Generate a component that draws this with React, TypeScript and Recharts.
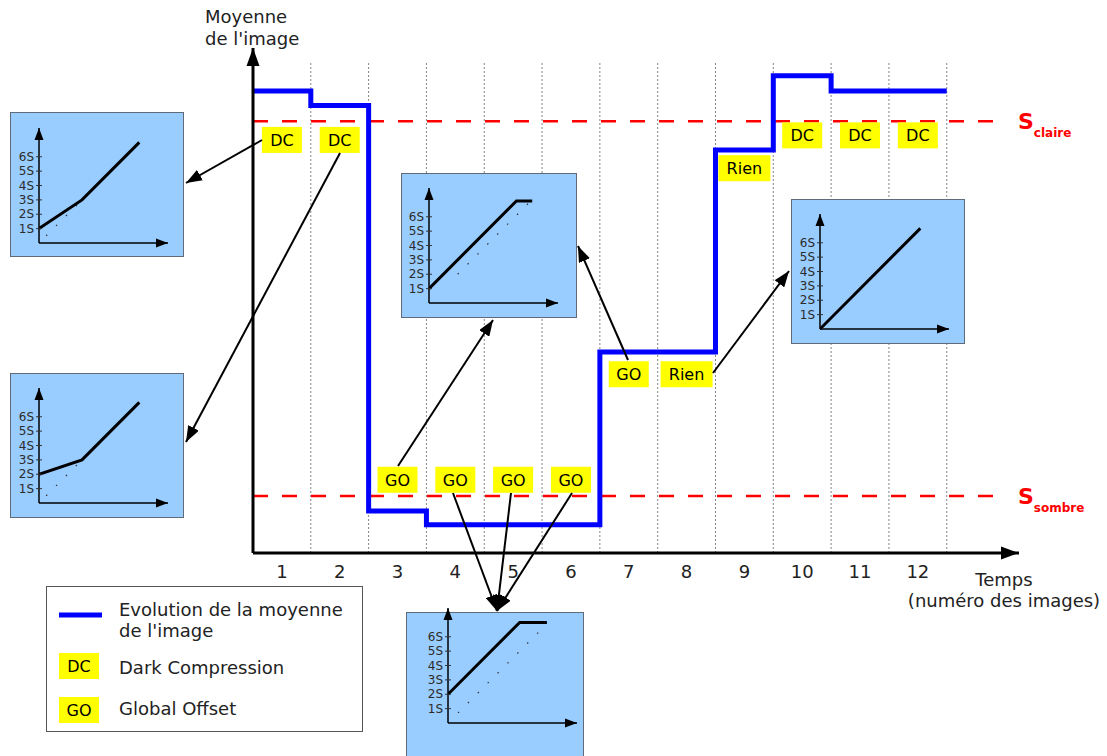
import React from 'react';
import { LineChart, Line, XAxis, YAxis, ReferenceLine, ReferenceDot } from 'recharts';

// main chart: image mean per image (1..12), value scale 0..100
const IMAGES = [1, 2, 3, 4, 5, 6, 7, 8, 9, 10, 11, 12];
const MEAN = [91.5, 88.6, 8.3, 5.6, 5.6, 5.6, 39.8, 39.8, 79.8, 94.5, 91.5, 91.5];
const TICK_LABELS = ['1', '2', '3', '4', '5', '6', '7', '8', '9', '10', '11', '12'];
const S_CLAIRE = 85.5;
const S_SOMBRE = 11.3;
const GRID_TOP = 97.2;

// yellow tags
const TAG_IMAGE = [1, 2, 10, 11, 12, 9, 7, 8, 3, 4, 5, 6];
const TAG_TEXT = ['DC', 'DC', 'DC', 'DC', 'DC', 'Rien', 'GO', 'Rien', 'GO', 'GO', 'GO', 'GO'];
const TAG_LEVEL = [81.8, 81.8, 82.7, 82.7, 82.7, 76.2, 35.4, 35.4, 14.5, 14.5, 14.5, 14.5];

// small transfer-curve insets (units of S)
const INSET_A = [{ x: 0, y: 1 }, { x: 3, y: 3 }, { x: 7, y: 7 }];
const INSET_A_DOT = [{ x: 0.5, y: 0.5 }, { x: 3, y: 3 }];
const INSET_B = [{ x: 0, y: 2 }, { x: 3, y: 3 }, { x: 7, y: 7 }];
const INSET_B_DOT = [{ x: 0.5, y: 0.5 }, { x: 3, y: 3 }];
const INSET_C = [{ x: 0, y: 1 }, { x: 6.1, y: 7.1 }, { x: 7.2, y: 7.1 }];
const INSET_C_DOT = [{ x: 2, y: 2 }, { x: 7, y: 7 }];
const INSET_D = [{ x: 0, y: 0 }, { x: 7, y: 7 }];
const INSET_E = [{ x: 0, y: 2 }, { x: 5, y: 7 }, { x: 6.9, y: 7 }];
const INSET_E_DOT = [{ x: 0.7, y: 0.7 }, { x: 6.9, y: 6.9 }];
const S_TICKS = [1, 2, 3, 4, 5, 6];

const FONT = '"DejaVu Sans", Verdana, sans-serif';

const stepData = [
  ...IMAGES.map((img, i) => ({ t: img - 1, mean: MEAN[i] })),
  { t: IMAGES.length, mean: MEAN[MEAN.length - 1] },
];

const arrowRight = (len: number, half: number) => (p: any) => (
  <polygon points={`${p.cx},${p.cy} ${p.cx - len},${p.cy - half} ${p.cx - len},${p.cy + half}`} fill="#000" />
);
const arrowUp = (len: number, half: number) => (p: any) => (
  <polygon points={`${p.cx},${p.cy} ${p.cx - half},${p.cy + len} ${p.cx + half},${p.cy + len}`} fill="#000" />
);

const tagShape = (text: string) => (p: any) => {
  const w = text.length > 2 ? 52 : 40;
  return (
    <g>
      <rect x={p.cx - w / 2} y={p.cy - 13} width={w} height={26} fill="#ffff00" />
      <text x={p.cx} y={p.cy + 6} textAnchor="middle" fontSize={16} fill="#000" fontFamily={FONT}>{text}</text>
    </g>
  );
};

const thresholdLabel = (sub: string) => (p: any) => (
  <text x={p.cx - 1} y={p.cy + 8} fill="#ff0000" fontWeight="bold" fontFamily={FONT}>
    <tspan fontSize={22}>S</tspan>
    <tspan fontSize={12} dy={8}>{sub}</tspan>
  </text>
);

const ML = 40;
function Inset({ box, origin, curve, dotted }: any) {
  const W = 190, H = 150, MB = 25;
  return (
    <>
      <div style={{ position: 'absolute', left: box.x, top: box.y, width: box.w, height: box.h, background: '#99ccff', border: '1px solid #5f6b78', boxSizing: 'border-box' }} />
      <div style={{ position: 'absolute', left: origin.x - ML, top: origin.y - (H - MB) }}>
        <LineChart width={W} height={H} margin={{ top: 10, right: 21, bottom: MB - 1, left: ML - 1 }} style={{ overflow: 'visible' }}>
          <XAxis type="number" dataKey="x" domain={[0, 9]} height={1} tick={false} tickLine={false} axisLine={{ stroke: '#000', strokeWidth: 1.5 }} allowDataOverflow />
          <YAxis
            type="number"
            domain={[0, 8]}
            width={1}
            ticks={S_TICKS}
            interval={0}
            tickLine={false}
            tickSize={0}
            axisLine={{ stroke: '#000', strokeWidth: 1.5 }}
            tick={(p: any) => (
              <g>
                <line x1={ML - 3} x2={ML + 3} y1={p.y} y2={p.y} stroke="#333" />
                <text x={ML - 5} y={p.y + 4} textAnchor="end" fontSize={12} fill="#2b2b2b" fontFamily={FONT}>{p.payload.value}S</text>
              </g>
            )}
          />
          {dotted && (
            <Line data={dotted} dataKey="y" stroke="#333" strokeWidth={1.2} strokeDasharray="1.5 12.5" dot={false} isAnimationActive={false} />
          )}
          <Line data={curve} dataKey="y" stroke="#000" strokeWidth={3} dot={false} isAnimationActive={false} />
          <ReferenceDot x={9} y={0} r={0} shape={arrowRight(12, 4.5)} ifOverflow="visible" />
          <ReferenceDot x={0} y={8} r={0} shape={arrowUp(12, 4.5)} ifOverflow="visible" />
        </LineChart>
      </div>
    </>
  );
}

// annotation arrows between tags and insets (page pixels)
const ARROWS = [
  [262, 140, 186, 183],
  [340, 153, 186, 442],
  [398, 466, 493, 320],
  [628, 360, 578, 246],
  [713, 373, 789, 271],
  [453, 493, 497, 611],
  [511, 493, 497, 611],
  [572, 493, 497, 611],
];

export default function App() {
  return (
    <div style={{ position: 'absolute', left: 0, top: 0, width: 1107, height: 756, overflow: 'hidden', background: '#fff', fontFamily: FONT }}>
      <LineChart width={1107} height={756} data={stepData} margin={{ top: 48, right: 88, bottom: 173, left: 252 }}>
        <XAxis
          type="number"
          dataKey="t"
          domain={[0, 13.25]}
          ticks={IMAGES.map((i) => i - 0.5)}
          interval={0}
          height={30}
          tickLine={false}
          tickSize={0}
          tickMargin={0}
          axisLine={{ stroke: '#000', strokeWidth: 3 }}
          allowDataOverflow
          tick={(p: any) => (
            <text x={p.x} y={p.y + 25} textAnchor="middle" fontSize={18} fill="#222" fontFamily={FONT}>
              {TICK_LABELS[p.index]}
            </text>
          )}
        />
        <YAxis type="number" domain={[0, 100]} width={1} tick={false} tickLine={false} axisLine={{ stroke: '#000', strokeWidth: 3 }} allowDataOverflow />
        {IMAGES.map((i) => (
          <ReferenceLine key={`g${i}`} segment={[{ x: i, y: 0 }, { x: i, y: GRID_TOP }]} stroke="#666" strokeWidth={0.8} strokeDasharray="2 2" />
        ))}
        <ReferenceLine segment={[{ x: 0, y: S_CLAIRE }, { x: 13, y: S_CLAIRE }]} stroke="#ff0000" strokeWidth={2.5} strokeDasharray="15 14" />
        <ReferenceLine segment={[{ x: 0, y: S_SOMBRE }, { x: 13, y: S_SOMBRE }]} stroke="#ff0000" strokeWidth={2.5} strokeDasharray="15 14" />
        <Line type="stepAfter" dataKey="mean" stroke="#0000ff" strokeWidth={5} dot={false} isAnimationActive={false} />
        {TAG_TEXT.map((txt, k) => (
          <ReferenceDot key={`t${k}`} x={TAG_IMAGE[k] - 0.5} y={TAG_LEVEL[k]} r={0} shape={tagShape(txt)} />
        ))}
        <ReferenceDot x={13.25} y={S_CLAIRE} r={0} shape={thresholdLabel('claire')} ifOverflow="visible" />
        <ReferenceDot x={13.25} y={S_SOMBRE} r={0} shape={thresholdLabel('sombre')} ifOverflow="visible" />
        <ReferenceDot x={13.25} y={0} r={0} shape={arrowRight(18, 6.5)} ifOverflow="visible" />
        <ReferenceDot x={0} y={100} r={0} shape={arrowUp(18, 6.5)} ifOverflow="visible" />
      </LineChart>

      <Inset box={{ x: 10, y: 112, w: 174, h: 145 }} origin={{ x: 39, y: 243 }} curve={INSET_A} dotted={INSET_A_DOT} />
      <Inset box={{ x: 10, y: 373, w: 174, h: 145 }} origin={{ x: 39, y: 503 }} curve={INSET_B} dotted={INSET_B_DOT} />
      <Inset box={{ x: 401, y: 173, w: 176, h: 145 }} origin={{ x: 429, y: 303 }} curve={INSET_C} dotted={INSET_C_DOT} />
      <Inset box={{ x: 791, y: 199, w: 174, h: 145 }} origin={{ x: 820, y: 329 }} curve={INSET_D} />
      <Inset box={{ x: 406, y: 612, w: 178, h: 160 }} origin={{ x: 448, y: 723 }} curve={INSET_E} dotted={INSET_E_DOT} />

      <svg width={1107} height={756} style={{ position: 'absolute', left: 0, top: 0, pointerEvents: 'none' }} fontFamily={FONT}>
        <defs>
          <marker id="ah" markerWidth={16} markerHeight={12} refX={16} refY={6} orient="auto" markerUnits="userSpaceOnUse">
            <path d="M0,0 L16,6 L0,12 z" fill="#000" />
          </marker>
        </defs>
        {ARROWS.map(([x1, y1, x2, y2], k) => (
          <line key={k} x1={x1} y1={y1} x2={x2} y2={y2} stroke="#000" strokeWidth={2} markerEnd="url(#ah)" />
        ))}

        <text x={205} y={23} fontSize={18} fill="#222">Moyenne</text>
        <text x={205} y={45} fontSize={18} fill="#222">de l'image</text>
        <text x={1004} y={586} fontSize={18} fill="#222" textAnchor="middle">Temps</text>
        <text x={1004} y={607} fontSize={18} fill="#222" textAnchor="middle">(numéro des images)</text>

        <rect x={46.5} y={586.5} width={316} height={145} fill="#fff" stroke="#555" />
        <line x1={59} x2={102} y1={615} y2={615} stroke="#0000ff" strokeWidth={5} />
        <text x={119} y={616} fontSize={18} fill="#222">Evolution de la moyenne</text>
        <text x={119} y={637} fontSize={18} fill="#222">de l'image</text>
        <rect x={59} y={653} width={40} height={26} fill="#ffff00" />
        <text x={79} y={672} fontSize={16} textAnchor="middle" fill="#000">DC</text>
        <text x={119} y={674} fontSize={18} fill="#222">Dark Compression</text>
        <rect x={59} y={697} width={40} height={26} fill="#ffff00" />
        <text x={79} y={716} fontSize={16} textAnchor="middle" fill="#000">GO</text>
        <text x={119} y={715} fontSize={18} fill="#222">Global Offset</text>
      </svg>
    </div>
  );
}
